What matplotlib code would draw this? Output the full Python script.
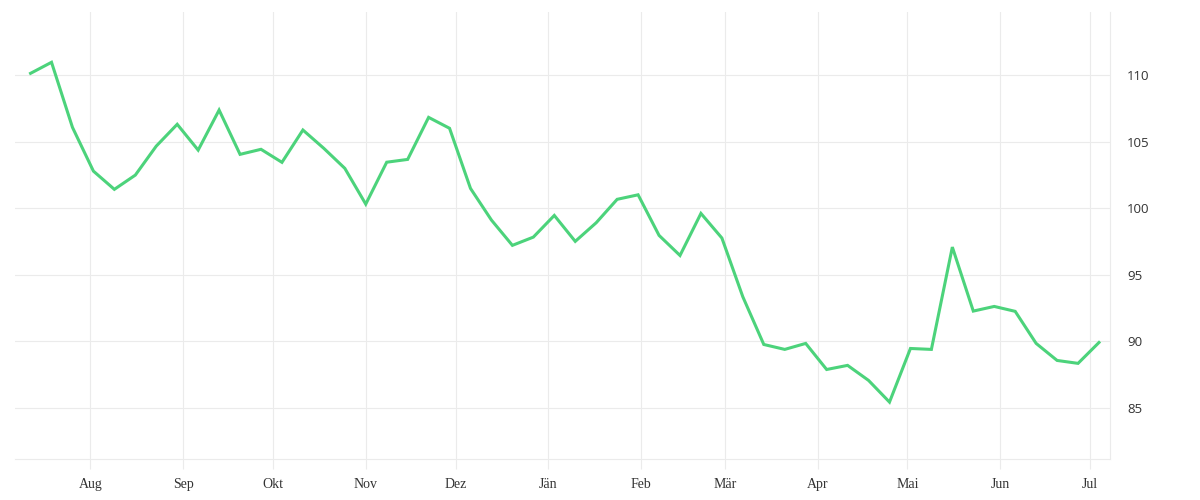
import matplotlib
matplotlib.use("Agg")
import matplotlib.pyplot as plt
import matplotlib.dates as mdates
import numpy as np
import pandas as pd

start_date = "2022-07-12"
n_weeks = 52
values = [110.15, 110.98, 106.09, 102.80, 101.43, 102.50, 104.68, 106.32, 104.38, 107.39,
          104.06, 104.44, 103.46, 105.89, 104.51, 103.01, 100.32, 103.47, 103.68, 106.84,
          106.02, 101.50, 99.12, 97.22, 97.84, 99.47, 97.52, 98.92, 100.68, 101.02,
          97.97, 96.46, 99.62, 97.77, 93.35, 89.77, 89.40, 89.85, 87.89, 88.20,
          87.07, 85.44, 89.47, 89.40, 97.09, 92.28, 92.63, 92.26, 89.85, 88.57,
          88.35, 89.92]
month_labels = ["Aug", "Sep", "Okt", "Nov", "Dez", "Jän", "Feb", "Mär", "Apr", "Mai", "Jun", "Jul"]
month_starts = ["2022-08-01", "2022-09-01", "2022-10-01", "2022-11-01", "2022-12-01", "2023-01-01",
                "2023-02-01", "2023-03-01", "2023-04-01", "2023-05-01", "2023-06-01", "2023-07-01"]
y_ticks = [85, 90, 95, 100, 105, 110]

dates = pd.date_range(start_date, periods=n_weeks, freq="7D")

grid_c = "#ebebeb"
fig = plt.figure(figsize=(12, 5), dpi=100)
ax = fig.add_axes([0.0125, 0.083, 0.9128, 0.893])

ax.plot(dates, values, color="#4cd37b", lw=2.2, solid_joinstyle="miter", zorder=3)

ax.set_xlim(pd.Timestamp(start_date) - pd.Timedelta(days=5.2),
            dates[-1] + pd.Timedelta(days=3.8))
ax.set_ylim(81.2, 114.76)

ax.set_xticks(pd.to_datetime(month_starts))
ax.set_xticklabels(month_labels, family=["Liberation Serif", "DejaVu Serif"], fontsize=10, color="#333333")
ax.set_yticks(y_ticks)
ax.set_yticklabels([str(v) for v in y_ticks], family=["Open Sans", "DejaVu Sans"], fontsize=9.5, color="#333333")

ax.yaxis.tick_right()
ax.tick_params(axis="y", length=0, pad=12)
ax.tick_params(axis="x", length=7.2, width=0.8, color=grid_c, pad=7)

ax.grid(True, color=grid_c, lw=0.8, zorder=0)
for s in ["top", "left"]:
    ax.spines[s].set_visible(False)
for s in ["bottom", "right"]:
    ax.spines[s].set_color(grid_c)
    ax.spines[s].set_linewidth(0.8)

fig.savefig("out.png", dpi=100, facecolor="white")
